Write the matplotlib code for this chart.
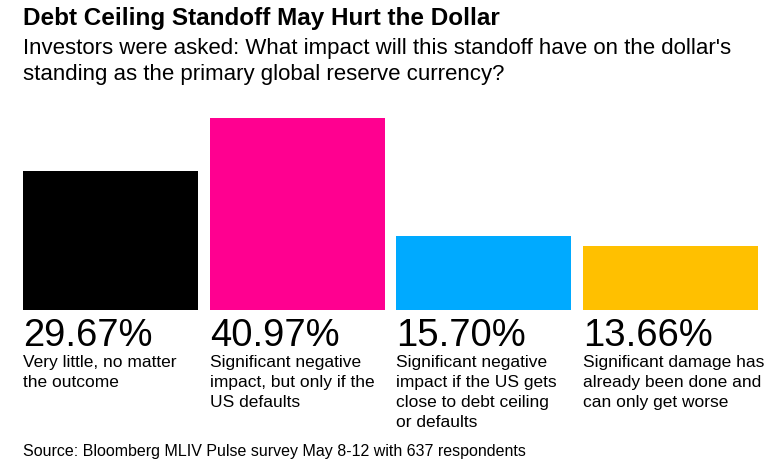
import numpy as np
import matplotlib
matplotlib.use("Agg")
import matplotlib.pyplot as plt

plt.rcParams["font.family"] = ["Liberation Sans", "DejaVu Sans"]

# 調查結果（百分比）
shares = [29.67, 40.97, 15.70, 13.66]
labels = [
    "Very little, no matter\nthe outcome",
    "Significant negative\nimpact, but only if the\nUS defaults",
    "Significant negative\nimpact if the US gets\nclose to debt ceiling\nor defaults",
    "Significant damage has\nalready been done and\ncan only get worse",
]
colors = ["#000000", "#FF0090", "#00AAFF", "#FFC000"]

W, H = 780, 465
fig = plt.figure(figsize=(W / 100, H / 100), dpi=100)

# 軸的位置照原圖像素換算
left, right, bottom, top = 23, 758, 310, 118
ax = fig.add_axes([left / W, 1 - bottom / H, (right - left) / W, (bottom - top) / H])

x = np.arange(len(shares))
bw = 175 / 187
ax.bar(x, shares, width=bw, color=colors)
ax.set_xlim(-bw / 2, len(shares) - 1 + bw / 2)
ax.set_ylim(0, max(shares))
ax.axis("off")

for i, (v, lab) in enumerate(zip(shares, labels)):
    xl = x[i] - bw / 2
    ax.annotate(f"{v:.2f}%", xy=(xl, 0), xytext=(0, -36), textcoords="offset pixels",
                ha="left", va="baseline", fontsize=27.5, color="black")
    ax.annotate(lab, xy=(xl, 0), xytext=(0, -45), textcoords="offset pixels",
                ha="left", va="top", fontsize=12.5, color="black", linespacing=1.42)

fig.text(23 / W, 1 - 25 / H, "Debt Ceiling Standoff May Hurt the Dollar",
         ha="left", va="baseline", fontsize=17.5, fontweight="bold")
fig.text(23 / W, 1 - 54 / H,
         "Investors were asked: What impact will this standoff have on the dollar's",
         ha="left", va="baseline", fontsize=16)
fig.text(23 / W, 1 - 80 / H,
         "standing as the primary global reserve currency?",
         ha="left", va="baseline", fontsize=16)
fig.text(23 / W, 1 - 456 / H,
         "Source: Bloomberg MLIV Pulse survey May 8-12 with 637 respondents",
         ha="left", va="baseline", fontsize=11.5)

fig.savefig("out.png", dpi=100)
